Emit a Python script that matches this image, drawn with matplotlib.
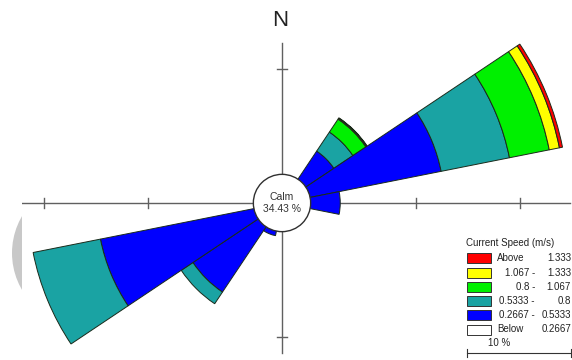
import matplotlib
matplotlib.use('Agg')
import matplotlib.pyplot as plt
from matplotlib.patches import Wedge, Circle, Rectangle, Ellipse
import numpy as np

plt.rcParams['font.family'] = ['Liberation Sans', 'DejaVu Sans']

# 16 compass sectors, percent of records per speed class
directions = ['N', 'NNE', 'NE', 'ENE', 'E', 'ESE', 'SE', 'SSE',
              'S', 'SSW', 'SW', 'WSW', 'W', 'WNW', 'NW', 'NNW']
bearings = np.arange(16) * 22.5

below_0267 = [0, 0, 0, 0, 0, 0, 0, 0, 0, 0, 0, 0, 0, 0, 0, 0]
c0267_0533 = [0, 0, 3.1, 12.7, 2.7, 0, 0, 0, 0, 0.3, 7.4, 14.9, 0, 0, 0, 0]
c0533_08 = [0, 0, 2.2, 6.7, 0, 0, 0, 0, 0, 0, 1.35, 6.6, 0, 0, 0, 0]
c08_1067 = [0, 0, 1.5, 3.9, 0, 0, 0, 0, 0, 0, 0, 0, 0, 0, 0, 0]
c1067_1333 = [0, 0, 0.1, 1.0, 0, 0, 0, 0, 0, 0, 0, 0, 0, 0, 0, 0]
above_1333 = [0, 0, 0.05, 0.3, 0, 0, 0, 0, 0, 0, 0, 0, 0, 0, 0, 0]

calm_pct = 34.43

classes = [below_0267, c0267_0533, c0533_08, c08_1067, c1067_1333, above_1333]
class_colors = ['white', '#0000ff', '#1aa3a3', '#00f000', '#ffff00', '#ff0000']
legend_left = ['Below', '0.2667 -', '0.5333 -', '0.8 -', '1.067 -', 'Above']
legend_right = ['0.2667', '0.5333', '0.8', '1.067', '1.333', '1.333']

CALM_R = 2.9          # radius of the calm circle, in percent units
PPU = 10.4            # pixels per percent
CX, CY = 282, 203     # rose centre in pixels

def px(x, y):
    return (x - CX) / PPU, (CY - y) / PPU

fig = plt.figure(figsize=(5.72, 3.6), dpi=100)
fig.patch.set_facecolor('white')

# grey disc peeking out behind the plot area on the left
fig.add_artist(Ellipse((85 / 572, 107 / 360), 146 / 572, 146 / 360,
                       transform=fig.transFigure, facecolor='#c8c8c8',
                       edgecolor='none', zorder=-1))

ax = fig.add_axes([22 / 572, 0, 550 / 572, 1])
ax.set_facecolor('white')
ax.set_xlim(px(22, 0)[0], px(572, 0)[0])
ax.set_ylim(px(0, 360)[1], px(0, 0)[1])
ax.set_xticks([])
ax.set_yticks([])
for s in ax.spines.values():
    s.set_visible(False)

# cross hairs with 10 % ticks
axis_col = '#606060'
x0, _ = px(22, 0)
x1, _ = px(570, 0)
_, y0 = px(0, 353)
_, y1 = px(0, 43)
ax.plot([x0, x1], [0, 0], color=axis_col, lw=1, zorder=1)
ax.plot([0, 0], [y0, y1], color=axis_col, lw=1, zorder=1)
tk = 5 / PPU
for r in [CALM_R + 10, CALM_R + 20]:
    if r < x1:
        ax.plot([r, r], [-tk, tk], color=axis_col, lw=1, zorder=1)
    if -r > x0:
        ax.plot([-r, -r], [-tk, tk], color=axis_col, lw=1, zorder=1)
    if r < y1:
        ax.plot([-tk, tk], [r, r], color=axis_col, lw=1, zorder=1)
    if -r > y0:
        ax.plot([-tk, tk], [-r, -r], color=axis_col, lw=1, zorder=1)

# petals
for i, b in enumerate(bearings):
    theta = 90 - b
    cum = 0.0
    for vals, col in zip(classes, class_colors):
        v = vals[i]
        if v <= 0:
            continue
        r_in = 0 if cum == 0 else CALM_R + cum
        r_out = CALM_R + cum + v
        ax.add_patch(Wedge((0, 0), r_out, theta - 11.25, theta + 11.25,
                           width=r_out - r_in, facecolor=col,
                           edgecolor='#1a2a1a', lw=0.7, zorder=2))
        cum += v

# calm circle
ax.add_patch(Circle((0, 0), CALM_R * 0.95, facecolor='white',
                    edgecolor='#303030', lw=1, zorder=3))
ax.text(0, 0, 'Calm\n%.2f %%' % calm_pct, ha='center', va='center',
        fontsize=7.5, color='#333333', linespacing=1.2, zorder=4)

# north marker
nx, ny = px(280, 21)
ax.text(nx, ny, 'N', ha='center', va='center', fontsize=16, color='#222222')

# legend
fs = 7
tx, ty = px(466, 243)
ax.text(tx, ty, 'Current Speed (m/s)', fontsize=fs, va='center', ha='left',
        color='#222222')
row_y = [258, 272.5, 287, 301, 315, 329.5]
for k in range(6):
    j = 5 - k  # top row is the fastest class
    yc = row_y[k]
    rx, ry = px(467, yc + 5)
    ax.add_patch(Rectangle((rx, ry), 24 / PPU, 10 / PPU,
                           facecolor=class_colors[j], edgecolor='#333333',
                           lw=0.7, zorder=3))
    _, yt = px(0, yc)
    if legend_left[j] in ('Above', 'Below'):
        ax.text(px(497, 0)[0], yt, legend_left[j], fontsize=fs,
                ha='left', va='center', color='#222222')
    else:
        ax.text(px(535, 0)[0], yt, legend_left[j], fontsize=fs,
                ha='right', va='center', color='#222222')
    ax.text(px(571, 0)[0], yt, legend_right[j], fontsize=fs,
            ha='right', va='center', color='#222222')

# 10 % scale bar
sx, sy = px(467, 353)
ax.plot([sx, sx + 10], [sy, sy], color='#333333', lw=0.8)
for e in [sx, sx + 10]:
    ax.plot([e, e], [sy - tk * 0.8, sy + tk * 0.8], color='#333333', lw=0.8)
lx, ly = px(499, 343)
ax.text(lx, ly, '10 %', fontsize=fs, ha='center', va='center',
        color='#222222')

fig.savefig('out.png', dpi=100)
